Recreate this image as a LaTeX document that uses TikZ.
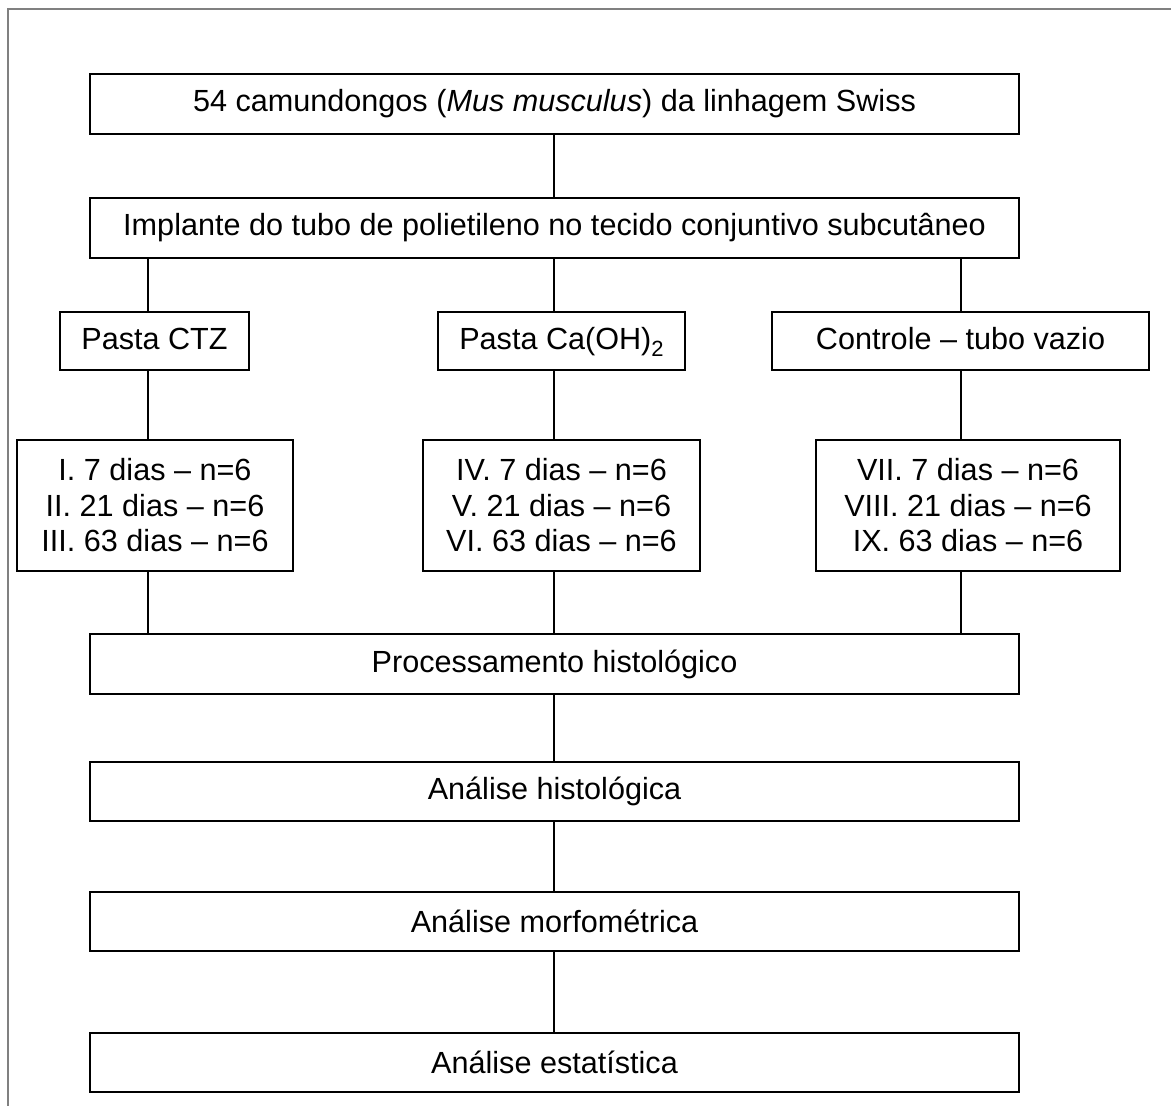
\documentclass[tikz,border=0pt]{standalone}
\usepackage{fontspec}
\setmainfont{Liberation Sans}
\begin{document}
\begin{tikzpicture}[x=0.5pt,y=-0.5pt,
    box/.style={draw,
        line width=1.1pt,
        inner sep=0pt,
        align=center,
        font=\fontsize{15.3}{17.75}\selectfont
    },
    wide/.style={box, minimum width=464.5pt, minimum height=30pt},
    arm/.style={box, minimum height=29pt, text height=11pt, text depth=2pt},
    link/.style={line width=0.8pt}
]

    \useasboundingbox (0,0) rectangle (1171,1106);
    \draw[gray, line width=0.8pt] (1171,9) -- (8,9) -- (8,1106);

    % columns of the connectors
    \coordinate (colL) at (148,0);
    \coordinate (colM) at (554,0);
    \coordinate (colR) at (961,0);

    \node[wide] (mice) at (554.5,104)
        {54 camundongos (\textit{Mus musculus}) da linhagem Swiss};
    \node[wide] (implant) at (554.5,228)
        {Implante do tubo de polietileno no tecido conjuntivo subcutâneo};

    \node[arm, minimum width=94.5pt] (ctz) at (154.5,341) {Pasta CTZ};
    \node[arm, minimum width=123.5pt] (caoh) at (561.5,341)
        {Pasta Ca(OH)\raisebox{-3.5pt}{\fontsize{11}{11}\selectfont 2}};
    \node[arm, minimum width=188.5pt] (control) at (960.5,341) {Controle – tubo vazio};

    \node[box, minimum width=138pt, minimum height=65.5pt] (grpA) at (155,505.5)
        {I. 7 dias – n=6\\II. 21 dias – n=6\\III. 63 dias – n=6};
    \node[box, minimum width=138.5pt, minimum height=65.5pt] (grpB) at (561.5,505.5)
        {IV. 7 dias – n=6\\V. 21 dias – n=6\\VI. 63 dias – n=6};
    \node[box, minimum width=152pt, minimum height=65.5pt] (grpC) at (968,505.5)
        {VII. 7 dias – n=6\\VIII. 21 dias – n=6\\IX. 63 dias – n=6};

    \node[wide] (proc) at (554.5,664) {Processamento histológico};
    \node[wide, minimum height=29.5pt] (histo) at (554.5,791.5) {Análise histológica};
    \node[wide, minimum height=29.5pt] (morpho) at (554.5,921.5) {Análise morfométrica};
    \node[wide, minimum height=29.5pt] (stats) at (554.5,1062.5) {Análise estatística};

    \draw[link] (mice.south -| colM) -- (implant.north -| colM);
    \foreach \col/\grp/\grpset in {colL/ctz/grpA, colM/caoh/grpB, colR/control/grpC} {
        \draw[link] (implant.south -| \col) -- (\grp.north -| \col);
        \draw[link] (\grp.south -| \col) -- (\grpset.north -| \col);
        \draw[link] (\grpset.south -| \col) -- (proc.north -| \col);
    }
    \draw[link] (proc.south -| colM) -- (histo.north -| colM);
    \draw[link] (histo.south -| colM) -- (morpho.north -| colM);
    \draw[link] (morpho.south -| colM) -- (stats.north -| colM);

\end{tikzpicture}
\end{document}
